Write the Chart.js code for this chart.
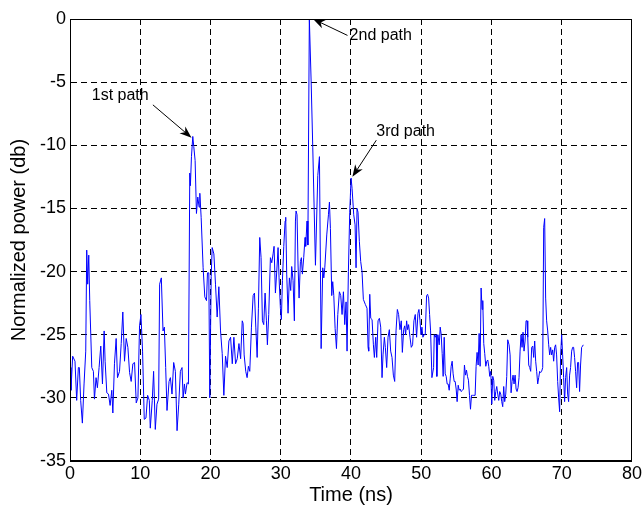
<!DOCTYPE html>
<html>
<head>
<meta charset="utf-8">
<script src="https://cdn.jsdelivr.net/npm/chart.js@4.4.1/dist/chart.umd.min.js"></script>
<style>
  html, body { margin: 0; padding: 0; background: #fff; }
  canvas { display: block; }
</style>
</head>
<body>
<canvas id="pdpChart" width="644" height="509"></canvas>
<script>
// delay axis (ns)
const times = [
  0, 0.14, 0.38, 0.71, 0.95, 1.19, 1.33, 1.52, 1.76, 2.0,
  2.24, 2.38, 2.52, 2.67, 2.81, 3.1, 3.33, 3.48, 3.71, 3.9,
  4.14, 4.38, 4.62, 4.86, 5.0, 5.24, 5.48, 5.71, 5.95, 6.1,
  6.33, 6.57, 6.76, 7.05, 7.29, 7.52, 7.76, 8.0, 8.24, 8.48,
  8.71, 8.95, 9.19, 9.43, 9.67, 9.9, 10.1, 10.33, 10.57, 10.81,
  11.05, 11.29, 11.43, 11.71, 11.9, 12.14, 12.38, 12.62, 12.76, 13.0,
  13.24, 13.43, 13.62, 13.81, 14.1, 14.29, 14.52, 14.76, 15.0, 15.24,
  15.48, 15.71, 15.95, 16.1, 16.29, 16.43, 16.67, 16.86, 17.05, 17.14,
  17.29, 17.48, 17.62, 17.81, 18.0, 18.19, 18.38, 18.48, 18.67, 18.95,
  19.19, 19.43, 19.57, 19.76, 19.9, 20.1, 20.24, 20.48, 20.71, 20.95,
  21.19, 21.43, 21.67, 21.9, 22.14, 22.38, 22.62, 22.86, 23.1, 23.33,
  23.57, 23.81, 24.05, 24.29, 24.52,
  24.64, 24.79, 25.02, 25.21, 25.40, 25.59, 25.83, 26.07, 26.26, 26.45,
  26.64, 26.82, 27.01, 27.20, 27.39, 27.58, 27.77, 27.96, 28.10, 28.29,
  28.53, 28.72, 28.91, 29.05, 29.24, 29.43, 29.62, 29.76, 29.95, 30.09,
  30.24, 30.43, 30.62, 30.71, 30.85, 31.04, 31.23, 31.42, 31.56, 31.75,
  31.94, 32.09, 32.18, 32.32, 32.46, 32.61, 32.80, 32.94, 33.08, 33.27,
  33.46, 33.55, 33.74, 33.86, 34.07,
  34.33, 34.56, 34.94, 35.27, 35.51, 35.75, 35.98, 36.13, 36.27, 36.55,
  36.79, 36.93, 37.07, 37.26, 37.40, 37.55, 37.74, 37.93, 38.12, 38.35,
  38.54, 38.73, 38.92, 39.11, 39.30, 39.44, 39.63, 39.82, 40.01, 40.15,
  40.39, 40.58, 40.72, 40.86, 41.0, 41.19, 41.38, 41.57, 41.76, 42.04,
  42.28,
  42.43, 42.52, 42.67, 42.81, 43.0, 43.19, 43.33, 43.52, 43.66, 43.85,
  44.04, 44.23, 44.42, 44.56, 44.75, 44.89, 45.08, 45.27, 45.46, 45.65,
  45.84, 46.03, 46.22, 46.41, 46.6, 46.78, 46.97, 47.16, 47.31, 47.5,
  47.64, 47.78, 47.92, 48.06, 48.2, 48.4, 48.58, 48.77, 48.96, 49.15,
  49.34, 49.53, 49.67, 49.82, 49.96, 50.1, 50.24, 50.38, 50.57, 50.76,
  50.9, 51.05, 51.19, 51.33, 51.52, 51.76,
  51.85, 51.99, 52.13, 52.22, 52.37, 52.56, 52.7, 52.84, 52.98, 53.12,
  53.27, 53.41, 53.55, 53.69, 53.83, 53.98, 54.12, 54.26, 54.4, 54.54,
  54.69, 54.83, 54.97, 55.11, 55.26, 55.4, 55.54, 55.68, 55.87, 56.01,
  56.15, 56.3, 56.44, 56.58, 56.72, 56.87, 57.01, 57.15, 57.29, 57.48,
  57.67, 57.81, 57.95, 58.1, 58.24, 58.38, 58.52, 58.66, 58.76, 58.9,
  59.04, 59.19, 59.33, 59.47, 59.61, 59.75, 59.9, 60.04, 60.18, 60.32,
  60.46, 60.61, 60.75, 60.89, 61.03, 61.17, 61.32, 61.46, 61.6, 61.74,
  61.88, 62.03, 62.17, 62.31,
  62.5, 62.65, 62.79, 62.93, 63.07, 63.21, 63.36, 63.5, 63.64, 63.78,
  63.92, 64.07, 64.21, 64.35, 64.49, 64.63, 64.78, 64.92, 65.06, 65.16,
  65.3, 65.44, 65.58, 65.72, 65.87, 66.01, 66.15, 66.29, 66.43, 66.58,
  66.72, 66.86, 67.0, 67.14, 67.29, 67.43, 67.57, 67.71, 67.85, 68.0,
  68.14, 68.28, 68.42, 68.56, 68.71, 68.85, 68.99, 69.13, 69.27, 69.42,
  69.56, 69.7, 69.84, 69.99, 70.13, 70.27, 70.41, 70.55, 70.7, 70.84,
  70.98, 71.12, 71.26, 71.41, 71.55, 71.69, 71.83, 71.97, 72.12, 72.26,
  72.4, 72.54, 72.68, 72.83, 72.97, 73.06
];

// normalized power (dB), one value per delay
const powers = [
  -27.6, -29.4, -26.7, -27.1, -30.2, -27.6, -27.6, -30.2, -32.0, -28.9,
  -26.3, -18.3, -21.0, -18.7, -22.3, -27.6, -27.9, -30.1, -28.4, -29.2,
  -27.6, -25.9, -28.9, -24.7, -27.1, -29.6, -29.7, -30.6, -29.4, -31.2,
  -27.3, -25.3, -28.4, -27.9, -25.7, -23.2, -27.1, -25.3, -26.0, -28.0,
  -28.7, -27.3, -27.2, -30.4, -30.0, -24.3, -23.4, -26.3, -31.7, -31.6,
  -29.8, -30.2, -32.4, -30.2, -27.9, -32.5, -30.5, -30.1, -21.0, -20.5,
  -24.7, -24.4, -27.6, -31.0, -28.7, -28.4, -29.7, -27.2, -27.9, -32.6,
  -30.5, -27.9, -27.6, -30.0, -28.9, -29.7, -28.8, -28.9, -12.2, -13.2,
  -10.9, -9.3, -10.1, -11.2, -15.4, -14.1, -14.9, -13.8, -15.7, -19.7,
  -22.0, -22.3, -20.1, -20.1, -30.0, -20.4, -18.1, -18.6, -21.0, -23.6,
  -21.2, -24.7, -26.5, -29.8, -26.7, -27.6, -25.5, -25.2, -27.3, -25.2,
  -27.3, -26.9, -25.7, -26.9, -23.9,
  -24.1, -26.6, -27.9, -28.4, -27.5, -27.9, -24.4, -21.9, -21.7, -24.4,
  -26.8, -22.9, -17.3, -18.9, -23.9, -24.2, -21.7, -23.9, -25.8, -23.4,
  -18.9, -19.3, -18.6, -18.0, -21.7, -20.0, -18.1, -20.5, -22.9, -23.8,
  -20.7, -18.0, -16.0, -15.7, -20.2, -23.3, -20.5, -21.5, -19.6, -20.7,
  -23.9, -16.0, -15.2, -15.5, -19.4, -22.1, -19.2, -18.9, -20.2, -18.9,
  -17.3, -18.0, -16.0, -17.9, 0,
  -5.0, -10.2, -19.5, -12.4, -10.9, -26.1, -19.7, -20.5, -19.7, -17.1,
  -15.5, -14.5, -16.6, -21.9, -20.8, -21.9, -24.5, -26.1, -23.4, -21.6,
  -21.9, -23.4, -21.6, -24.2, -22.4, -26.3, -20.0, -15.3, -12.6, -13.4,
  -15.5, -16.3, -19.7, -15.0, -15.3, -17.6, -19.2, -20.0, -22.2, -22.6,
  -22.9,
  -26.0, -26.3, -21.8, -23.7, -23.8, -25.8, -26.8, -25.2, -26.8, -23.9,
  -23.7, -24.4, -28.4, -26.6, -25.2, -26.0, -27.6, -25.2, -24.6, -26.3,
  -26.8, -28.2, -28.7, -24.7, -23.0, -23.4, -24.6, -23.9, -26.4, -24.6,
  -24.3, -25.0, -23.9, -24.6, -24.2, -25.2, -26.0, -25.8, -23.9, -23.4,
  -25.2, -23.3, -23.0, -23.9, -25.0, -24.4, -25.2, -25.0, -25.0, -21.9,
  -21.8, -22.1, -23.4, -24.7, -28.4, -27.6,
  -25.0, -25.2, -25.0, -28.3, -25.0, -25.8, -24.4, -25.0, -26.5, -28.3,
  -25.2, -28.1, -28.3, -28.9, -28.9, -29.4, -28.5, -27.5, -27.1, -28.1,
  -28.7, -28.7, -29.3, -30.3, -29.0, -29.4, -29.3, -29.5, -29.4, -29.3,
  -27.4, -28.2, -27.8, -28.3, -28.6, -29.8, -30.9, -29.8, -29.8, -29.8,
  -29.8, -27.5, -26.4, -27.4, -24.9, -27.5, -21.3, -23.0, -22.3, -25.7,
  -26.5, -27.5, -27.1, -27.0, -27.5, -28.3, -27.9, -30.5, -28.3, -28.6,
  -30.2, -29.5, -29.1, -29.7, -30.2, -29.5, -29.7, -30.3, -30.7, -29.1,
  -30.3, -29.7, -28.3, -25.4,
  -25.8, -26.6, -29.6, -28.7, -28.2, -28.9, -28.2, -29.3, -29.5, -29.2,
  -28.4, -26.3, -25.0, -26.0, -24.8, -26.3, -25.5, -23.9, -23.9, -25.2,
  -27.4, -27.6, -27.9, -26.0, -25.9, -26.8, -25.5, -27.1, -27.9, -28.9,
  -28.4, -27.9, -28.0, -27.9, -27.6, -16.5, -15.8, -22.1, -23.9, -24.7,
  -25.8, -26.6, -26.0, -26.6, -26.2, -27.1, -26.0, -25.8, -26.6, -28.7,
  -30.0, -31.1, -26.6, -25.0, -26.6, -28.4, -30.3, -28.4, -27.6, -29.7,
  -30.3, -28.2, -27.6, -26.3, -26.0, -26.0, -26.8, -27.9, -29.2, -27.2,
  -27.2, -29.5, -27.4, -26.0, -25.9, -25.8
];

// path annotations: label text, arrow tip / tail and label anchor in data units
const pathNames = ['1st path', '2nd path', '3rd path'];
const tipX = [17.3, 34.6, 40.2];
const tipY = [-9.4, 0, -12.5];
const tailX = [11.8, 39.5, 43.6];
const tailY = [-6.8, -1.3, -9.6];
const labelX = [3.1, 39.8, 43.6];
const labelY = [-6.1, -1.3, -8.9];

const FONT = '"Liberation Sans", Arial, sans-serif';
Chart.defaults.font.family = FONT;
Chart.defaults.color = '#000';

// arrows, labels and the closed axes box
const pathArrows = {
    id: 'pathArrows',
    afterDatasetsDraw(chart) {
        const {ctx, chartArea: a, scales: {x, y}} = chart;
        ctx.save();
        ctx.strokeStyle = '#000';
        ctx.fillStyle = '#000';
        ctx.lineWidth = 1;

        pathNames.forEach((name, i) => {
            const x0 = x.getPixelForValue(tailX[i]);
            const y0 = y.getPixelForValue(tailY[i]);
            const x1 = x.getPixelForValue(tipX[i]);
            const y1 = y.getPixelForValue(tipY[i]);
            const ang = Math.atan2(y1 - y0, x1 - x0);
            const ux = Math.cos(ang), uy = Math.sin(ang);
            const len = 12, wid = 4.5;
            const bx = x1 - ux * len, by = y1 - uy * len;

            ctx.beginPath();
            ctx.moveTo(x0, y0);
            ctx.lineTo(x1 - ux * 6, y1 - uy * 6);
            ctx.stroke();

            ctx.beginPath();
            ctx.moveTo(x1, y1);
            ctx.lineTo(bx - uy * wid, by + ux * wid);
            ctx.lineTo(x1 - ux * len * 0.7, y1 - uy * len * 0.7);
            ctx.lineTo(bx + uy * wid, by - ux * wid);
            ctx.closePath();
            ctx.fill();

            ctx.font = '16px ' + FONT;
            ctx.textAlign = 'left';
            ctx.textBaseline = 'middle';
            ctx.fillText(name, x.getPixelForValue(labelX[i]), y.getPixelForValue(labelY[i]));
        });

        ctx.strokeRect(Math.round(a.left) + 0.5, Math.round(a.top) + 0.5,
                       Math.round(a.right - a.left) - 1, Math.round(a.bottom - a.top) - 1);
        ctx.restore();
    }
};

function drawPdp() {
    const ctx = document.getElementById('pdpChart').getContext('2d');

    const points = times.map((t, i) => ({x: t, y: powers[i]}));

    new Chart(ctx, {
        type: 'line',
        data: {
            datasets: [{
                data: points,
                borderColor: '#0000ff',
                borderWidth: 1,
                pointRadius: 0,
                tension: 0,
                fill: false
            }]
        },
        options: {
            responsive: false,
            animation: false,
            layout: { padding: { left: 0, right: 11, top: 19, bottom: 0 } },
            plugins: {
                legend: { display: false },
                tooltip: { enabled: false }
            },
            scales: {
                x: {
                    type: 'linear',
                    min: 0,
                    max: 80,
                    ticks: {
                        stepSize: 10,
                        padding: 2,
                        font: { size: 18 },
                        callback: v => String(v)
                    },
                    grid: { color: '#000', lineWidth: 1, drawTicks: false },
                    border: { color: '#000', dash: [6, 4] },
                    title: {
                        display: true,
                        text: 'Time (ns)',
                        font: { size: 20 },
                        padding: { top: 0, bottom: 2 }
                    },
                    afterFit(scale) { scale.height = 48; }
                },
                y: {
                    min: -35,
                    max: 0,
                    ticks: {
                        stepSize: 5,
                        padding: 4,
                        font: { size: 18 },
                        callback: v => String(v)
                    },
                    grid: { color: '#000', lineWidth: 1, drawTicks: false },
                    border: { color: '#000', dash: [6, 4] },
                    title: {
                        display: true,
                        text: 'Normalized power (db)',
                        font: { size: 20 },
                        padding: { top: 7, bottom: 0 }
                    },
                    afterFit(scale) { scale.width = 70; }
                }
            }
        },
        plugins: [pathArrows]
    });
}
drawPdp();
</script>
</body>
</html>
